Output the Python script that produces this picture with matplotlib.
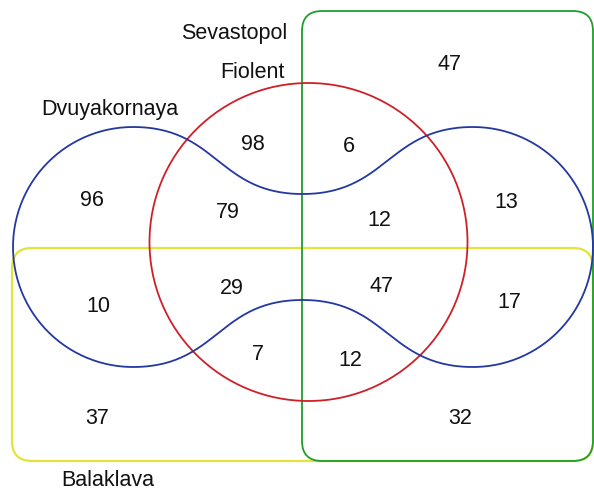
import numpy as np
import matplotlib
matplotlib.use("Agg")
import matplotlib.pyplot as plt
from matplotlib.patches import FancyBboxPatch, Circle, PathPatch
from matplotlib.path import Path

plt.rcParams['font.family'] = ['Liberation Sans', 'DejaVu Sans']

# Set labels
set_names = ["Sevastopol", "Fiolent", "Dvuyakornaya", "Balaklava"]
set_label_pos = [(234, 34), (252, 73), (110, 110), (108, 480)]

# Region counts
region_values = [98, 96, 79, 47, 6, 12, 13, 10, 29, 7, 37, 47, 17, 12, 32]
region_pos = [(253, 144), (92, 201), (228, 213), (449, 65), (349, 146),
              (379, 220), (506, 202), (98, 307), (232, 289), (258, 355),
              (97, 418), (381, 286), (509, 302), (350, 361), (460, 419)]

W, H = 594, 489
fig = plt.figure(figsize=(W / 100, H / 100), dpi=100)
ax = fig.add_axes([0, 0, 1, 1])
ax.set_xlim(0, W)
ax.set_ylim(H, 0)
ax.axis('off')

lw = 1.3
green = '#1f9e2c'
red = '#cf2029'
blue = '#2338a0'
yellow = '#e3e33a'

# Yellow rounded rectangle (Balaklava)
ax.add_patch(FancyBboxPatch((12, 249), 581, 213, boxstyle="round,pad=0,rounding_size=20",
                            fill=False, ec=yellow, lw=lw + 0.3))
# Green rounded rectangle (Sevastopol)
ax.add_patch(FancyBboxPatch((302, 12), 291, 450, boxstyle="round,pad=0,rounding_size=20",
                            fill=False, ec=green, lw=lw))
# Red circle (Fiolent)
ax.add_patch(Circle((308.5, 243), 159, fill=False, ec=red, lw=lw))

# Blue dumbbell (Dvuyakornaya)
cy = 248
r = 120
lcx, rcx = 133, 473
neck_top, neck_bot = 195, 301
midx = 302.5


def bez(p0, p1, p2, p3, n=60):
    t = np.linspace(0, 1, n)[:, None]
    p0, p1, p2, p3 = map(np.array, (p0, p1, p2, p3))
    return (1 - t) ** 3 * p0 + 3 * (1 - t) ** 2 * t * p1 + 3 * (1 - t) * t ** 2 * p2 + t ** 3 * p3


pts = []
# left lobe: top -> left -> bottom
ang = np.linspace(-np.pi / 2, -3 * np.pi / 2, 120)
pts.append(np.column_stack([lcx + r * np.cos(ang), cy + r * np.sin(ang)]))
# bottom S-curves through the neck
k = (midx - lcx) / 2
pts.append(bez((lcx, cy + r), (lcx + k, cy + r), (midx - k, neck_bot), (midx, neck_bot)))
pts.append(bez((midx, neck_bot), (midx + k, neck_bot), (rcx - k, cy + r), (rcx, cy + r)))
# right lobe: bottom -> right -> top
ang = np.linspace(np.pi / 2, -np.pi / 2, 120)
pts.append(np.column_stack([rcx + r * np.cos(ang), cy + r * np.sin(ang)]))
pts.append(bez((rcx, cy - r), (rcx - k, cy - r), (midx + k, neck_top), (midx, neck_top)))
pts.append(bez((midx, neck_top), (midx - k, neck_top), (lcx + k, cy - r), (lcx, cy - r)))
verts = np.vstack(pts)
ax.add_patch(PathPatch(Path(verts, closed=False), fill=False, ec=blue, lw=lw))

fs = 15.5
for name, (x, y) in zip(set_names, set_label_pos):
    ax.text(x, y, name, ha='center', va='center', fontsize=fs, color='#111111')
for v, (x, y) in zip(region_values, region_pos):
    ax.text(x, y, str(v), ha='center', va='center', fontsize=fs, color='#111111')

fig.savefig('out.png', dpi=100)
